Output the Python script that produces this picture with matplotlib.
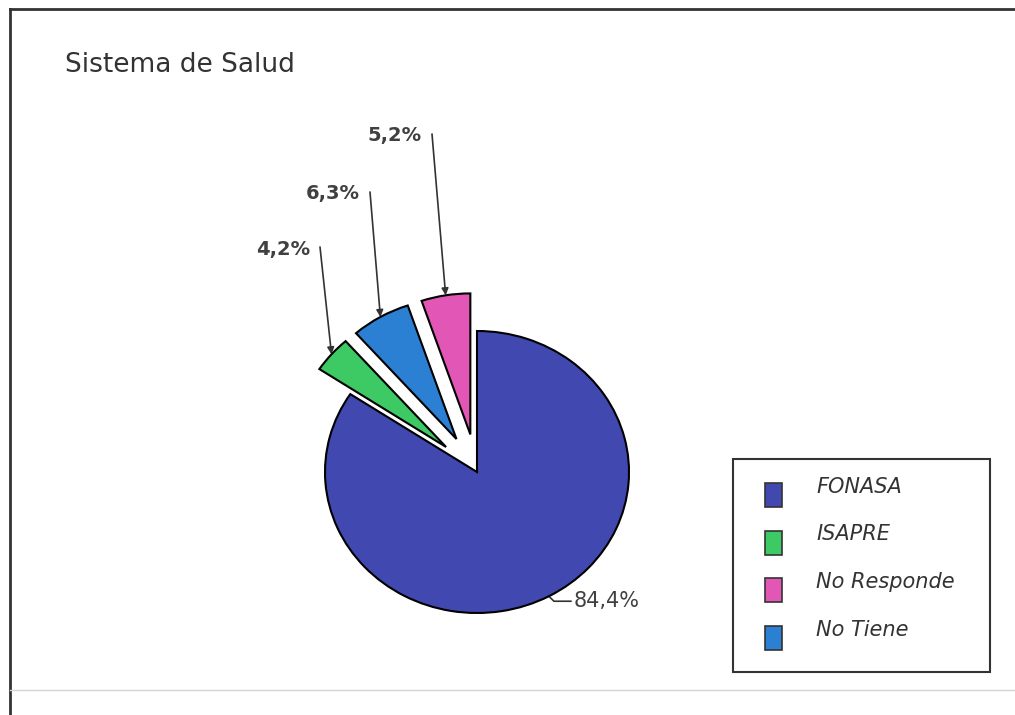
import matplotlib.pyplot as plt
from matplotlib.patches import Rectangle
import numpy as np

# datos del grafico
categorias = ['FONASA', 'ISAPRE', 'No Tiene', 'No Responde']
porcentajes = [84.4, 4.2, 6.3, 5.2]
etiquetas = ['84,4%', '4,2%', '6,3%', '5,2%']
colores = ['#4149b0', '#3dc964', '#2b80d3', '#e257b6']
separacion = [0, 0.27, 0.27, 0.27]
orden_leyenda = ['FONASA', 'ISAPRE', 'No Responde', 'No Tiene']
titulo = 'Sistema de Salud'

W, H = 1015, 715
fig = plt.figure(figsize=(W / 100, H / 100), dpi=100)

# capa de fondo en pixeles (y hacia abajo)
fondo = fig.add_axes([0, 0, 1, 1])
fondo.set_xlim(0, W)
fondo.set_ylim(H, 0)
fondo.axis('off')

# marco
fondo.plot([10, 10], [9, H], color='#333333', lw=2)
fondo.plot([10, W], [9, 9], color='#333333', lw=2)
fondo.plot([10, W], [690, 690], color='#d5d5d5', lw=1)

fondo.text(65, 72, titulo, fontsize=19, color='#333333', va='baseline',
           ha='left', family='DejaVu Sans')

# torta: centro (477, 472) px, radio 152 x 141 px
cx, cy, rx, ry, L = 477, 472, 152, 141, 1.6
ax = fig.add_axes([(cx - L * rx) / W, (H - cy - L * ry) / H,
                   2 * L * rx / W, 2 * L * ry / H])
wedges, _ = ax.pie(porcentajes, colors=colores, explode=separacion,
                   startangle=90, counterclock=False,
                   wedgeprops=dict(edgecolor='black', linewidth=1.5))
ax.set_xlim(-L, L)
ax.set_ylim(-L, L)
ax.set_aspect('auto')
ax.axis('off')


def a_pixel(x, y):
    # datos -> pixeles de la imagen (y hacia abajo)
    return cx + x * rx, cy - y * ry


# etiquetas con flecha para las porciones chicas
inicios = {1: (320, 247), 2: (370, 192), 3: (432, 134)}
for i, (sx, sy) in inicios.items():
    w = wedges[i]
    t = np.radians((w.theta1 + w.theta2) / 2)
    px, py = a_pixel(w.center[0] + w.r * np.cos(t), w.center[1] + w.r * np.sin(t))
    fondo.annotate('', xy=(px, py), xytext=(sx, sy),
                   arrowprops=dict(arrowstyle='-|>', color='#333333', lw=1.2,
                                   mutation_scale=10, shrinkA=0, shrinkB=0))
    fondo.text(sx - 10, sy + 2, etiquetas[i], fontsize=14, fontweight='bold',
               color='#404040', ha='right', va='center')

# etiqueta de FONASA
w = wedges[0]
t = np.radians((w.theta1 + w.theta2) / 2)
px, py = a_pixel(w.r * np.cos(t), w.r * np.sin(t))
fondo.plot([px, px + 5, px + 22], [py, py + 5, py + 5], color='#333333', lw=1.2)
fondo.text(px + 25, py + 5, etiquetas[0], fontsize=15, color='#404040',
           ha='left', va='center')

# leyenda
fondo.add_patch(Rectangle((733, 459), 257, 213, fill=False,
                          edgecolor='#333333', lw=1.5))
for k, nombre in enumerate(orden_leyenda):
    j = categorias.index(nombre)
    yc = 495 + k * 47.5
    fondo.add_patch(Rectangle((765, yc - 12), 17, 24, facecolor=colores[j],
                              edgecolor='#333333', lw=1.2))
    fondo.text(816, yc - 8, nombre, fontsize=15, style='italic',
               color='#333333', ha='left', va='center')

fig.savefig('out.png', dpi=100)
